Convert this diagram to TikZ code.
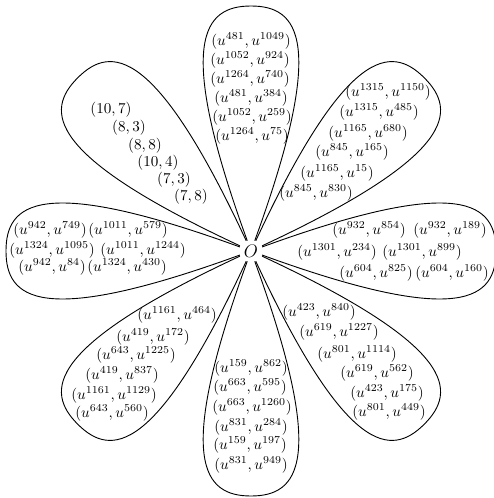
\documentclass[tikz,border=0pt]{standalone}
\begin{document}
\begin{tikzpicture}[x=0.662pt,y=0.662pt,
  lbl/.style={inner sep=0pt},
  petal/.style={draw,semithick},
  origin/.style={inner sep=2.5pt,font=\large}]
\useasboundingbox (0,0) rectangle (494,498);
\node[origin] (O) at (251,247) {$O$};
% tips
\foreach \n/\a in {t1/90,t2/45,t3/0,t4/-45,t5/-90,t6/-135,t7/180,t8/135}{
  \path (O.center) ++(\a:245) coordinate (\n);
}
\foreach \n/\a in {t1/90,t2/45,t3/0,t4/-45,t5/-90,t6/-135,t7/180,t8/135}{
  \draw[petal] (O) to[out=\a+20,in=\a+90,out distance=142pt,in distance=31pt] (\n)
                   to[out=\a-90,in=\a-20,out distance=31pt,in distance=142pt] (O);
}
% top petal
\node[lbl] (a1) at (251,457) {$(u^{481},u^{1049})$};
\node[lbl] (a2) at (250,438) {$(u^{1052},u^{924})$};
\node[lbl] (a3) at (250,419) {$(u^{1264},u^{740})$};
\node[lbl] (a4) at (251,400) {$(u^{481},u^{384})$};
\node[lbl] (a5) at (252,381) {$(u^{1052},u^{259})$};
\node[lbl] (a6) at (252,362) {$(u^{1264},u^{75})$};
% upper right
\node[lbl] (b1) at (388,406) {$(u^{1315},u^{1150})$};
\node[lbl] (b2) at (379,386) {$(u^{1315},u^{485})$};
\node[lbl] (b3) at (368,365) {$(u^{1165},u^{680})$};
\node[lbl] (b4) at (352,346) {$(u^{845},u^{165})$};
\node[lbl] (b5) at (337,325) {$(u^{1165},u^{15})$};
\node[lbl] (b6) at (316,305) {$(u^{845},u^{830})$};
% right
\node[lbl] (c1) at (369,268) {$(u^{932},u^{854})$};
\node[lbl] (c2) at (450,268) {$(u^{932},u^{189})$};
\node[lbl] (c3) at (337,246) {$(u^{1301},u^{234})$};
\node[lbl] (c4) at (422,246) {$(u^{1301},u^{899})$};
\node[lbl] (c5) at (376,225) {$(u^{604},u^{825})$};
\node[lbl] (c6) at (452,225) {$(u^{604},u^{160})$};
% lower right
\node[lbl] (d1) at (319,186) {$(u^{423},u^{840})$};
\node[lbl] (d2) at (339,166) {$(u^{619},u^{1227})$};
\node[lbl] (d3) at (357,144) {$(u^{801},u^{1114})$};
\node[lbl] (d4) at (377,125) {$(u^{619},u^{562})$};
\node[lbl] (d5) at (387,105) {$(u^{423},u^{175})$};
\node[lbl] (d6) at (389,86) {$(u^{801},u^{449})$};
% bottom
\node[lbl] (e1) at (251,130) {$(u^{159},u^{862})$};
\node[lbl] (e2) at (250,111) {$(u^{663},u^{595})$};
\node[lbl] (e3) at (252,91) {$(u^{663},u^{1260})$};
\node[lbl] (e4) at (251,71) {$(u^{831},u^{284})$};
\node[lbl] (e5) at (250,53) {$(u^{159},u^{197})$};
\node[lbl] (e6) at (251,33) {$(u^{831},u^{949})$};
% lower left
\node[lbl] (f1) at (177,183) {$(u^{1161},u^{464})$};
\node[lbl] (f2) at (153,161) {$(u^{419},u^{172})$};
\node[lbl] (f3) at (136,143) {$(u^{643},u^{1225})$};
\node[lbl] (f4) at (122,123) {$(u^{419},u^{837})$};
\node[lbl] (f5) at (114,103) {$(u^{1161},u^{1129})$};
\node[lbl] (f6) at (112,85) {$(u^{643},u^{560})$};
% left
\node[lbl] (g1) at (50,268) {$(u^{942},u^{749})$};
\node[lbl] (g2) at (128,268) {$(u^{1011},u^{579})$};
\node[lbl] (g3) at (52,248) {$(u^{1324},u^{1095})$};
\node[lbl] (g4) at (143,248) {$(u^{1011},u^{1244})$};
\node[lbl] (g5) at (52,231) {$(u^{942},u^{84})$};
\node[lbl] (g6) at (127,231) {$(u^{1324},u^{430})$};
% upper left
\node[lbl] (h1) at (111,388) {$(10,7)$};
\node[lbl] (h2) at (129,370) {$(8,3)$};
\node[lbl] (h3) at (145,352) {$(8,8)$};
\node[lbl] (h4) at (158,335) {$(10,4)$};
\node[lbl] (h5) at (174,318) {$(7,3)$};
\node[lbl] (h6) at (191,301) {$(7,8)$};
\end{tikzpicture}
\end{document}
